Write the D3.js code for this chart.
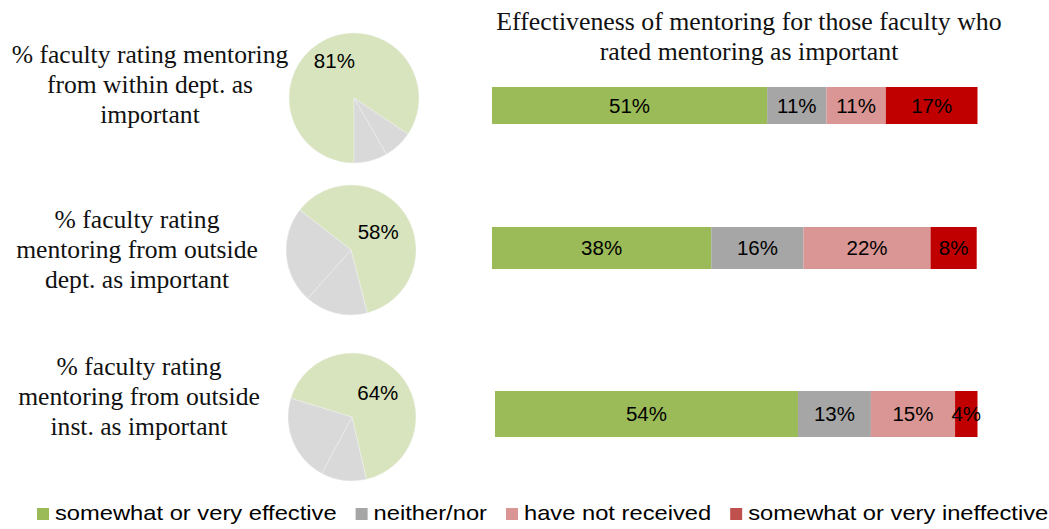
<!DOCTYPE html>
<html>
<head>
<meta charset="utf-8">
<script src="https://cdn.jsdelivr.net/npm/d3@7"></script>
<style>
  body { margin: 0; background: #fff; }
  .serif { font-family: "Liberation Serif", "Times New Roman", serif; fill: #111; }
  .sans { font-family: "Liberation Sans", Arial, sans-serif; fill: #000; }
</style>
</head>
<body>
<svg width="1049" height="529"></svg>
<script>
// ---- data ----
var titleLines = ["Effectiveness of mentoring for those faculty who", "rated mentoring as important"];
var rowLabels = [
  ["% faculty rating mentoring", "from within dept. as", "important"],
  ["% faculty rating", "mentoring from outside", "dept. as important"],
  ["% faculty rating", "mentoring from outside", "inst. as important"]
];
var pieImportant = [81, 58, 64];
var pieNeutral = [7, 15, 11];
var pieNotImportant = [8, 23, 21];

var categories = ["somewhat or very effective", "neither/nor", "have not received", "somewhat or very ineffective"];
var effective = [51, 38, 54];
var neither = [11, 16, 13];
var notReceived = [11, 22, 15];
var ineffective = [17, 8, 4];

// ---- layout ----
var svg = d3.select("svg");
var pieCx = [354, 351, 352], pieCy = [98, 250, 417], pieR = [65, 65, 64];
var pieStart = [180, 308, 287];
var pieLabelR = [0.64, 0.5, 0.55];
var labelCx = [150, 137, 139], labelTop = [63, 228, 375], lineH = 30;
var barX0 = [492, 492, 495], barX1 = [977.5, 976.7, 977.5];
var barY = [87, 227, 391], barH = [37, 42, 46];

var barColors = ["#9BBB59", "#A6A6A6", "#D99694", "#C00000"];
var legendColors = ["#9BBB59", "#A6A6A6", "#D99694", "#C0504D"];
var pieColors = ["#D7E4BD", "#D9D9D9", "#D9D9D9"];

// title
svg.append("text")
    .attr("class", "serif")
    .attr("text-anchor", "middle")
    .attr("font-size", 25.8)
  .selectAll("tspan")
  .data(titleLines)
  .enter().append("tspan")
    .attr("x", 749)
    .attr("y", function(d, i) { return 30 + i * lineH; })
    .text(function(d) { return d; });

// row labels
rowLabels.forEach(function(lines, r) {
  svg.append("text")
      .attr("class", "serif")
      .attr("text-anchor", "middle")
      .attr("font-size", 25.6)
    .selectAll("tspan")
    .data(lines)
    .enter().append("tspan")
      .attr("x", labelCx[r])
      .attr("y", function(d, i) { return labelTop[r] + i * lineH; })
      .text(function(d) { return d; });
});

// pies
var pieRows = pieImportant.map(function(v, i) { return [v, pieNeutral[i], pieNotImportant[i]]; });

pieRows.forEach(function(vals, r) {
  var a0 = pieStart[r] * Math.PI / 180;
  var pie = d3.pie().sort(null).startAngle(a0).endAngle(a0 + 2 * Math.PI);
  var arc = d3.arc().innerRadius(0).outerRadius(pieR[r]);
  var lr = pieR[r] * pieLabelR[r];
  var labelArc = d3.arc().innerRadius(lr).outerRadius(lr);
  var arcs = pie(vals);

  var g = svg.append("g")
      .attr("transform", "translate(" + pieCx[r] + "," + pieCy[r] + ")");

  g.selectAll("path")
    .data(arcs)
    .enter().append("path")
      .attr("d", arc)
      .attr("fill", function(d, i) { return pieColors[i]; })
      .attr("stroke", "#f4f4f4")
      .attr("stroke-width", 0.4);

  g.append("text")
      .attr("class", "sans")
      .attr("font-size", 20.5)
      .attr("text-anchor", "middle")
      .attr("dy", "0.35em")
      .attr("transform", "translate(" + labelArc.centroid(arcs[0]) + ")")
      .text(vals[0] + "%");
});

// stacked bars (each row normalised to its own total)
var barData = effective.map(function(v, i) {
  return { row: i, a: v, b: neither[i], c: notReceived[i], d: ineffective[i] };
});
var keys = ["a", "b", "c", "d"];
var series = d3.stack().keys(keys).offset(d3.stackOffsetExpand)(barData);

barData.forEach(function(row, r) {
  var x = d3.scaleLinear().domain([0, 1]).range([barX0[r], barX1[r]]);
  var g = svg.append("g");
  series.forEach(function(s, k) {
    var seg = s[r];
    g.append("rect")
        .attr("x", x(seg[0]))
        .attr("y", barY[r])
        .attr("width", x(seg[1]) - x(seg[0]))
        .attr("height", barH[r])
        .attr("fill", barColors[k]);
    g.append("text")
        .attr("class", "sans")
        .attr("font-size", 20.5)
        .attr("text-anchor", "middle")
        .attr("x", (x(seg[0]) + x(seg[1])) / 2)
        .attr("y", barY[r] + barH[r] / 2)
        .attr("dy", "0.36em")
        .text(row[keys[k]] + "%");
  });
});

// legend
var stretch = 1.13, lx = 37, ly = 520;
categories.forEach(function(c, i) {
  svg.append("rect")
      .attr("x", lx)
      .attr("y", ly - 12)
      .attr("width", 12)
      .attr("height", 12)
      .attr("fill", legendColors[i]);
  var t = svg.append("text")
      .attr("class", "sans")
      .attr("font-size", 21)
      .attr("transform", "translate(" + (lx + 18) + "," + ly + ") scale(" + stretch + ",1)")
      .text(c);
  lx += 18 + t.node().getComputedTextLength() * stretch + 19;
});
</script>
</body>
</html>
